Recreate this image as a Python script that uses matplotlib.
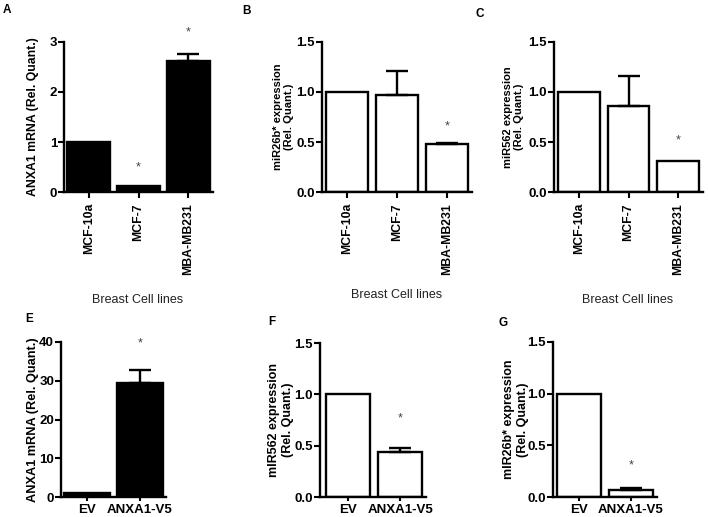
import matplotlib
matplotlib.use("Agg")
import matplotlib.pyplot as plt

plt.rcParams['font.family'] = ['Liberation Sans', 'DejaVu Sans']

W, H = 708, 517

# top row: breast cell lines
cells = ["MCF-10a", "MCF-7", "MBA-MB231"]
anxa1_cells = [1.0, 0.13, 2.63]
anxa1_cells_err = [0, 0, 0.13]
anxa1_cells_star = [None, 0.5, 3.19]

mir26b_cells = [1.0, 0.97, 0.48]
mir26b_cells_err = [0, 0.24, 0.015]
mir26b_cells_star = [None, None, 0.66]

mir562_cells = [1.0, 0.86, 0.31]
mir562_cells_err = [0, 0.30, 0]
mir562_cells_star = [None, None, 0.52]

# bottom row: transfection
groups = ["EV", "ANXA1-V5"]
anxa1_tx = [1.0, 29.4]
anxa1_tx_err = [0, 3.5]
anxa1_tx_star = [None, 39.7]

mir562_tx = [1.0, 0.44]
mir562_tx_err = [0, 0.04]
mir562_tx_star = [None, 0.77]

mir26b_tx = [1.0, 0.07]
mir26b_tx_err = [0, 0.02]
mir26b_tx_star = [None, 0.31]

fig = plt.figure(figsize=(W / 100, H / 100), dpi=100)


def px_axes(l, r, t, b):
    return fig.add_axes([l / W, 1 - b / H, (r - l) / W, (b - t) / H])


def panel(ax, labels, vals, errs, stars, color, ylim, yticks, yfmt, ylabel,
          xlim, width, rotate, lab_x, lab_fs, lab_ls=1.1):
    x = list(range(len(vals)))
    ax.bar(x, vals, width=width, color=color, edgecolor="black",
           linewidth=1.7, zorder=2)
    for xi, v, e in zip(x, vals, errs):
        if e > 0:
            ax.errorbar(xi, v, yerr=[[0], [e]], fmt="none", ecolor="black",
                        elinewidth=1.7, capsize=8, capthick=1.7, zorder=3)
    for xi, s in zip(x, stars):
        if s is not None:
            ax.text(xi, s, "*", ha="center", va="center", fontsize=9,
                    color="#444444", clip_on=False)
    ax.set_xlim(*xlim)
    ax.set_ylim(*ylim)
    ax.set_yticks(yticks)
    ax.set_yticklabels([yfmt.format(t) for t in yticks], fontsize=9.5,
                       fontweight="bold")
    ax.set_xticks(x)
    if rotate:
        ax.set_xticklabels(labels, rotation=90, fontsize=8.8,
                           fontweight="bold")
        ax.tick_params(axis="x", length=4, width=1.5, pad=4)
    else:
        ax.set_xticklabels(labels, fontsize=9.5, fontweight="bold")
        ax.tick_params(axis="x", length=3, width=1.5, pad=2)
    ax.tick_params(axis="y", length=4, width=1.5, pad=1)
    for s in ["top", "right"]:
        ax.spines[s].set_visible(False)
    for s in ["left", "bottom"]:
        ax.spines[s].set_linewidth(1.7)
    ax.set_ylabel(ylabel, fontweight="bold", fontsize=lab_fs,
                  linespacing=lab_ls)
    ax.yaxis.set_label_coords(lab_x, 0.5)


axA = px_axes(64, 213, 42, 192)
panel(axA, cells, anxa1_cells, anxa1_cells_err, anxa1_cells_star, "black",
      (0, 3), [0, 1, 2, 3], "{:.0f}", "ANXA1 mRNA (Rel. Quant.)",
      (-0.5, 2.5), 0.87, True, -0.17, 8.8)

axB = px_axes(322, 472, 42, 192)
panel(axB, cells, mir26b_cells, mir26b_cells_err, mir26b_cells_star, "white",
      (0, 1.5), [0, 0.5, 1.0, 1.5], "{:.1f}",
      "miR26b* expression\n(Rel. Quant.)",
      (-0.5, 2.5), 0.84, True, -0.19, 8)

axC = px_axes(554, 703, 42, 192)
panel(axC, cells, mir562_cells, mir562_cells_err, mir562_cells_star, "white",
      (0, 1.5), [0, 0.5, 1.0, 1.5], "{:.1f}",
      "miR562 expression\n(Rel. Quant.)",
      (-0.5, 2.5), 0.84, True, -0.2, 8)

axE = px_axes(61, 166, 342, 497)
panel(axE, groups, anxa1_tx, anxa1_tx_err, anxa1_tx_star, "black",
      (0, 40), [0, 10, 20, 30, 40], "{:.0f}", "ANXA1 mRNA (Rel. Quant.)",
      (-0.5, 1.5), 0.88, False, -0.21, 9.2)

axF = px_axes(320, 426, 343, 497)
panel(axF, groups, mir562_tx, mir562_tx_err, mir562_tx_star, "white",
      (0, 1.5), [0, 0.5, 1.0, 1.5], "{:.1f}",
      "mIR562 expression\n(Rel. Quant.)",
      (-0.55, 1.5), 0.85, False, -0.25, 9, 1.2)

axG = px_axes(553, 657, 342, 497)
panel(axG, groups, mir26b_tx, mir26b_tx_err, mir26b_tx_star, "white",
      (0, 1.5), [0, 0.5, 1.0, 1.5], "{:.1f}",
      "mIR26b* expression\n(Rel. Quant.)",
      (-0.5, 1.5), 0.83, False, -0.23, 9, 1.2)

# x group titles for top row
for xc, yc in [(138, 300), (397, 295), (628, 300)]:
    fig.text(xc / W, 1 - yc / H, "Breast Cell lines", ha="center",
             va="center", fontsize=9, color="#222222")

# panel letters
for letter, (xc, yc) in zip("ABCEFG", [(7, 10), (247, 11), (480, 14),
                                       (29, 319), (272, 322), (503, 323)]):
    fig.text(xc / W, 1 - yc / H, letter, ha="center", va="center",
             fontsize=8.5, fontweight="bold")

fig.savefig("out.png", dpi=100)
